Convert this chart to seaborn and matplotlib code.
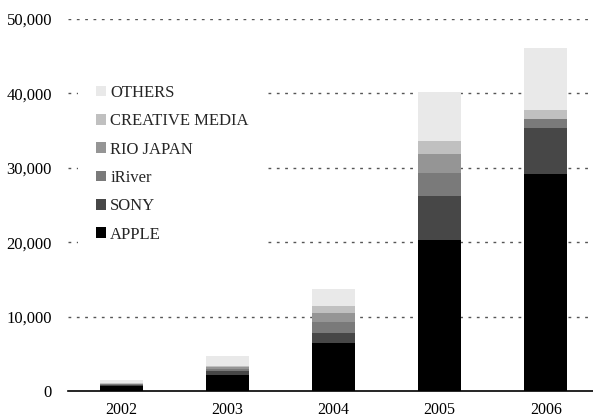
import matplotlib
matplotlib.use("Agg")
import matplotlib.pyplot as plt
import seaborn as sns
import numpy as np
import pandas as pd
from matplotlib.ticker import FixedLocator, FuncFormatter
from matplotlib.patches import Patch

years = ["2002", "2003", "2004", "2005", "2006"]
apple = [680, 2150, 6450, 20300, 29200]
sony = [120, 500, 1350, 5900, 6200]
iriver = [80, 310, 1470, 3100, 1200]
rio = [120, 220, 1210, 2550, 0]
creative = [120, 220, 940, 1750, 1200]
others = [360, 1300, 2280, 6600, 8300]

series = ["APPLE", "SONY", "iRiver", "RIO JAPAN", "CREATIVE MEDIA", "OTHERS"]
values = [apple, sony, iriver, rio, creative, others]
colors = ["#000000", "#474747", "#7a7a7a", "#959595", "#c0c0c0", "#e9e9e9"]

sns.set_theme(style="white")
plt.rcParams["font.family"] = ["Liberation Serif", "DejaVu Serif"]

fig = plt.figure(figsize=(5.93, 4.18), dpi=100)
ax = fig.add_axes([68 / 593, (418 - 391) / 418, (599 - 68) / 593, (391 - 19) / 418])

bottom = np.zeros(len(years))
for name, vals, c in zip(series, values, colors):
    df = pd.DataFrame({"year": years, "value": vals})
    sns.barplot(data=df, x="year", y="value", bottom=bottom, color=c,
                width=0.405, ax=ax, saturation=1, edgecolor="none", linewidth=0)
    bottom = bottom + np.array(vals)

ax.set_xlim(-0.5, 4.5)
ax.set_ylim(0, 50000)
ax.set_xlabel("")
ax.set_ylabel("")
ax.set_yticks([0, 10000, 20000, 30000, 40000, 50000])
ax.yaxis.set_major_formatter(FuncFormatter(lambda v, p: f"{int(v):,}"))
for y in [10000, 20000, 30000, 40000, 50000]:
    ax.axhline(y, color="#555555", linestyle=(0, (2, 4)), linewidth=1, zorder=0)
ax.tick_params(axis="y", length=0, pad=11.5, labelsize=12, colors="black")
ax.tick_params(axis="x", which="major", length=0, pad=8, labelsize=11.5, colors="black")
ax.minorticks_on()
ax.yaxis.set_minor_locator(FixedLocator([]))
ax.xaxis.set_minor_locator(FixedLocator([-0.5, 0.5, 1.5, 2.5, 3.5]))
ax.tick_params(axis="x", which="minor", direction="in", length=5, width=1, color="black")

for s in ["top", "right", "left"]:
    ax.spines[s].set_visible(False)
ax.spines["bottom"].set_color("black")
ax.spines["bottom"].set_linewidth(1.2)

handles = [Patch(facecolor=c, edgecolor="none") for c in colors][::-1]
leg = ax.legend(handles, series[::-1], loc="upper left", bbox_to_anchor=(0.0188, 0.871),
                frameon=True, facecolor="white", edgecolor="none", framealpha=1,
                fancybox=False, fontsize=12, handlelength=0.6, handleheight=0.6,
                handletextpad=0.25, labelspacing=0.74, borderaxespad=0, borderpad=1.08)

fig.savefig("out.png", dpi=100)
